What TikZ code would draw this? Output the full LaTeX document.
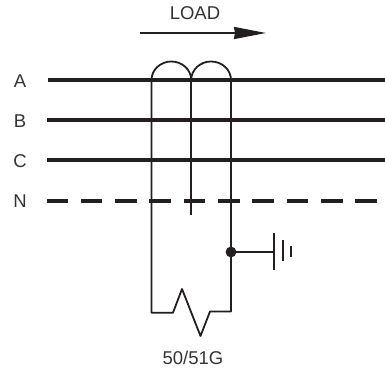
\documentclass[tikz,border=0pt]{standalone}
\usepackage{fontspec}
\setmainfont{Liberation Sans}
\usetikzlibrary{arrows.meta}
\usetikzlibrary{calc}
\definecolor{inkline}{HTML}{231F20}

\begin{document}
\begin{tikzpicture}[
    x=1pt, y=1pt,
    phase line/.style={line width=4pt, color=inkline},
    neutral line/.style={line width=4pt, color=inkline, dash pattern=on 21.6pt off 12.7pt},
    thin line/.style={line width=1.8pt, color=inkline, line join=round},
    load arrow/.style={line width=1.7pt, color=inkline, -{Stealth[length=32pt, width=12pt, inset=1pt]}},
    every node/.style={color=black!80, font=\fontsize{18.5}{20}\selectfont, inner sep=0pt}
    ]
    \useasboundingbox (0,0) rectangle (385,371);

    % labels
    \node (labelA) at (20,290) {A};
    \node (labelB) at (20,250) {B};
    \node (labelC) at (20,210) {C};
    \node (labelN) at (20,170) {N};
    \node (load) at (195,358) {LOAD};
    \node (relay) at (193,13) {50/51G};
    % define phases
    \coordinate (A1) at (48,291);
    \coordinate (A2) at (385,291);
    \coordinate (B1) at (47,251);
    \coordinate (B2) at (385,251);
    \coordinate (C1) at (47,210.5);
    \coordinate (C2) at (385,210.5);
    \coordinate (N1) at (46.5,170);
    \coordinate (N2) at (385,170);
    % define CT and relay
    \coordinate (L1) at (140,338);
    \coordinate (L2) at (266,338);
    \coordinate (T1) at (151.5,291);
    \coordinate (T2) at (191.2,291);
    \coordinate (T3) at (231,291);
    \coordinate (E2) at (191.2,156);
    \coordinate (R1) at (151.5,58.3);
    \coordinate (R2) at (173,58.3);
    \coordinate (R3) at (182,82);
    \coordinate (R4) at (200.5,35);
    \coordinate (R5) at (210,59.5);
    \coordinate (R6) at (231,59.5);
    \coordinate (J) at (231,119);
    \coordinate (G) at (274,119);
    % phases
    \draw[phase line] (A1) -- (A2);
    \draw[phase line] (B1) -- (B2);
    \draw[phase line] (C1) -- (C2);
    \draw[neutral line] (N1) -- (N2);
    % load direction
    \draw[load arrow] (L1) -- (L2);
    % CT
    \draw[thin line] (T1) arc[start angle=180, end angle=0, x radius=19.85, y radius=18.5];
    \draw[thin line] (T2) arc[start angle=180, end angle=0, x radius=19.9, y radius=18.5];
    \draw[thin line] (T2) -- (E2);
    % relay loop
    \draw[thin line] (T1) -- (R1) -- (R2) -- (R3) -- (R4) -- (R5) -- (R6) -- (T3);
    % ground
    \fill[color=inkline] (J) circle (5.4pt);
    \draw[thin line] (J) -- (G);
    \draw[thin line] ($(G)+(0,19)$) -- ($(G)+(0,-18)$);
    \draw[thin line] ($(G)+(9,12)$) -- ($(G)+(9,-9)$);
    \draw[thin line] ($(G)+(17,6)$) -- ($(G)+(17,-5)$);

\end{tikzpicture}
\end{document}
